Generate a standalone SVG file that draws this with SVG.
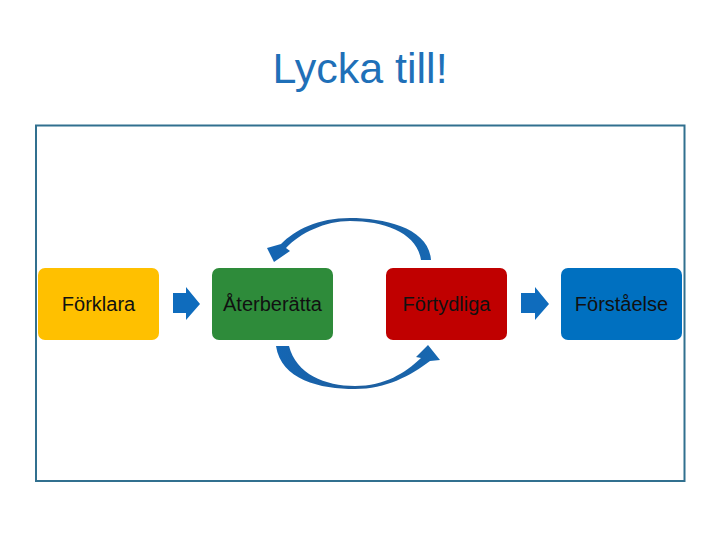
<svg xmlns="http://www.w3.org/2000/svg" width="720" height="540" viewBox="0 0 720 540">
<defs>
<style>
.box{stroke:none}
.lbl{font-family:"Liberation Sans",Arial,sans-serif;font-size:20px;fill:#111;text-anchor:middle}
.blk{fill:#0F6CBD}
.arc{fill:url(#g)}
</style>
<linearGradient id="g" x1="0" y1="0" x2="1" y2="0">
<stop offset="0" stop-color="#1466B4"/>
<stop offset="0.5" stop-color="#1E5E9E"/>
<stop offset="1" stop-color="#1668B2"/>
</linearGradient>
</defs>
<rect x="0" y="0" width="720" height="540" fill="#fff"/>
<text x="360" y="83" font-family="Liberation Sans,Arial,sans-serif" font-size="43" fill="#1F70B8" text-anchor="middle">Lycka till!</text>
<rect x="36" y="125.5" width="648.5" height="355.5" fill="none" stroke="#31708F" stroke-width="2"/>
<g id="forklara"><rect class="box" x="38" y="268" width="121" height="72" rx="7" fill="#FFC000"/><text class="lbl" x="98.5" y="311">Förklara</text></g>
<g id="aterberatta"><rect class="box" x="212" y="268" width="121" height="72" rx="7" fill="#2E8B3A"/><text class="lbl" x="272.5" y="311">Återberätta</text></g>
<g id="fortydliga"><rect class="box" x="386" y="268" width="121" height="72" rx="7" fill="#C00000"/><text class="lbl" x="446.5" y="311">Förtydliga</text></g>
<g id="forstaelse"><rect class="box" x="561" y="268" width="121" height="72" rx="7" fill="#0070C0"/><text class="lbl" x="621.5" y="311">Förståelse</text></g>
<g id="connectors">
<path class="blk" d="M173 293 H186 V287 L200 304 L186 320 V313 H173 Z"/>
<path class="blk" d="M521 293 H535 V287 L549 304 L535 320 V313 H521 Z"/>
<path class="arc" d="M431 260 C429 228 385 218 350 218 C318 218 295 230 281 244 L267 248 L274 262 L290 251 L286 248 C300 233 325 221 350 221 C385 221 417 233 421 260 Z"/>
<path class="arc" d="M276 346 C281 380 320 389 355 389 C386 389 410 376 430 361 L440 360 L428 345 L416 357 L421 358 C405 373 385 386 355 386 C325 386 296 374 289 346 Z"/>
</g>
</svg>
